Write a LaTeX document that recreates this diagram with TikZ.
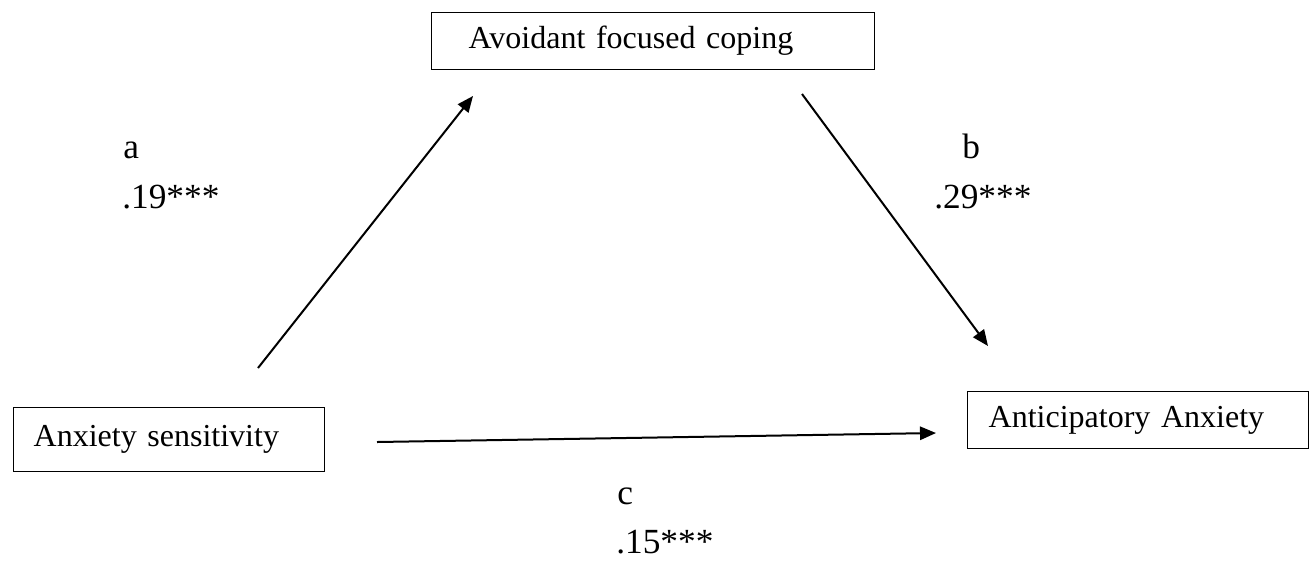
\documentclass[tikz,border=0pt]{standalone}
\usepackage{fontspec}
\setmainfont{Liberation Serif}
\usepackage{tikz}
\usetikzlibrary{arrows.meta}
\tikzset{
  varbox/.style={
    rectangle, draw=black, line width=1pt, anchor=north west,
    align=left, inner ysep=0pt, font=\fontsize{24}{28}\selectfont
  },
  patharrow/.style={-{Triangle[length=12pt,width=10pt]}, line width=1.5pt, color=black},
  pathlabel/.style={anchor=base west, inner sep=0pt, font=\fontsize{26.5}{30}\selectfont},
}
\begin{document}
\begin{tikzpicture}[x=0.75pt,y=-0.75pt]
  \useasboundingbox (0,0) rectangle (1312,562);
  \node[varbox, minimum height=42.75pt, text width=276.75pt, inner xsep=27.75pt] (cope) at (431,12) {Avoidant focused coping};
  \node[varbox, minimum height=48pt, text width=203.25pt, inner xsep=15pt] (sens) at (13,407) {Anxiety sensitivity};
  \node[varbox, minimum height=42.75pt, text width=224.25pt, inner xsep=15.75pt] (ant) at (967,391) {Anticipatory Anxiety};
  \coordinate (aFrom) at (258,368);
  \coordinate (aTo) at (473,96);
  \coordinate (bFrom) at (802,94);
  \coordinate (bTo) at (988,346);
  \coordinate (cFrom) at (377,442);
  \coordinate (cTo) at (936,433);
  \draw[patharrow] (aFrom) -- (aTo);
  \draw[patharrow] (bFrom) -- (bTo);
  \draw[patharrow] (cFrom) -- (cTo);
  \node[pathlabel] (aName) at (123,158) {a};
  \node[pathlabel] (aVal) at (122,208) {.19***};
  \node[pathlabel] (bName) at (962,158) {b};
  \node[pathlabel] (bVal) at (934,208) {.29***};
  \node[pathlabel] (cName) at (617,504) {c};
  \node[pathlabel] (cVal) at (616,553) {.15***};
\end{tikzpicture}
\end{document}
